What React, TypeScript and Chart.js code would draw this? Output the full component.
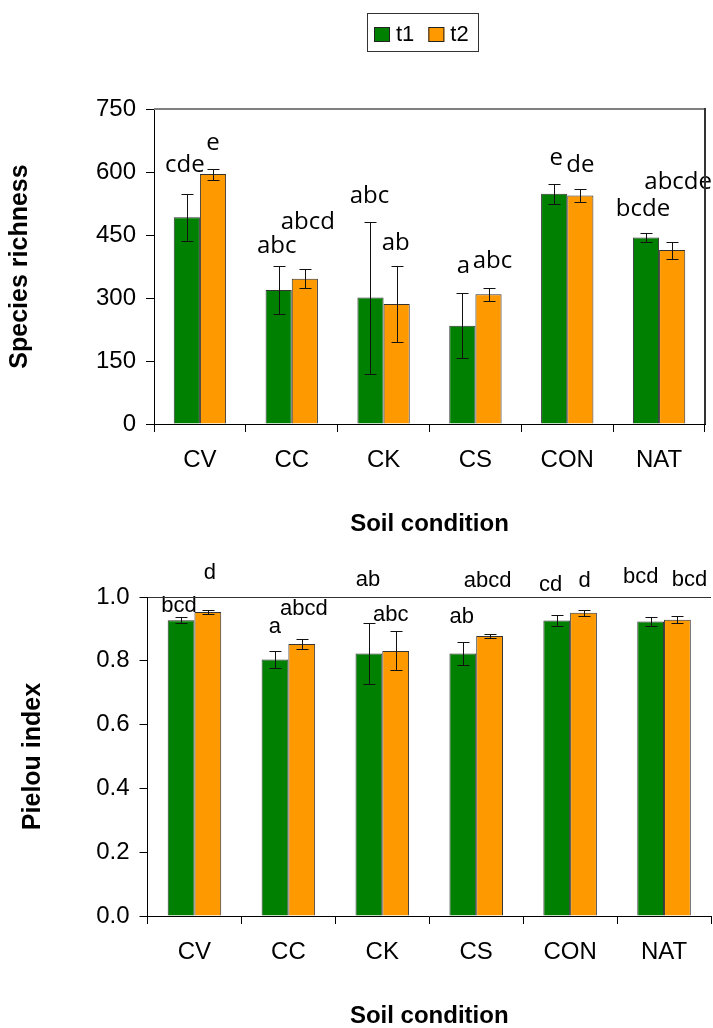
import React, { useEffect, useRef } from "react";
import { Chart, registerables } from "chart.js";

Chart.register(...registerables);

// ---------- data ----------
const categories = ["CV", "CC", "CK", "CS", "CON", "NAT"];
const seriesNames = ["t1", "t2"];

const richnessT1 = [492, 319, 301, 234, 548, 444];
const richnessT1Err = [56, 57, 181, 78, 24, 11];
const richnessT2 = [595, 346, 286, 309, 544, 414];
const richnessT2Err = [13, 23, 90, 16, 15, 20];
const richnessLettersT1 = ["cde", "abc", "abc", "a", "e", "bcde"];
const richnessLettersT2 = ["e", "abcd", "ab", "abc", "de", "abcde"];
const richnessTicks = [0, 150, 300, 450, 600, 750];

const pielouT1 = [0.927, 0.804, 0.823, 0.823, 0.926, 0.923];
const pielouT1Err = [0.009, 0.027, 0.097, 0.035, 0.017, 0.015];
const pielouT2 = [0.953, 0.853, 0.831, 0.878, 0.951, 0.929];
const pielouT2Err = [0.005, 0.015, 0.061, 0.005, 0.009, 0.01];
const pielouLettersT1 = ["bcd", "a", "ab", "ab", "cd", "bcd"];
const pielouLettersT2 = ["d", "abcd", "abc", "abcd", "d", "bcd"];
const pielouTicks = [0, 0.2, 0.4, 0.6, 0.8, 1.0];

// ---------- letter placement (layout, not data): [dx px, y in axis units] ----------
const richnessLetterPos = [
  [[-2, 600], [-2, 407], [-1, 526], [1, 360], [2, 617], [-3, 495]],
  [[0, 652], [3, 464], [-1, 414], [4, 371], [0, 600], [6, 560]],
];
const pielouLetterPos = [
  [[-2, 0.953], [0, 0.887], [-1, 1.033], [-1, 0.918], [-6, 1.019], [-10, 1.044]],
  [[2, 1.055], [2, 0.943], [-5, 0.925], [-2, 1.03], [1, 1.03], [12, 1.033]],
];

// ---------- styles ----------
const GREEN = "#008000";
const ORANGE = "#FF9900";
const ARIAL = "'Liberation Sans', Arial, sans-serif";
const CALIBRI = "'Open Sans', 'Liberation Sans', sans-serif";

const W = 713;
const TOP_H = 545;
const BOT_H = 483;

type Cfg = {
  height: number;
  t1: number[];
  t2: number[];
  e1: number[];
  e2: number[];
  l1: string[];
  l2: string[];
  pos: number[][][];
  ticks: number[];
  yTitle: string;
  decimals: number;
  area: { left: number; right: number; top: number; bottom: number };
  yTitlePad: number;
  letterFont: string;
  boxed: boolean;
  legend: boolean;
};

function makePlugins(c: Cfg, errors: number[][]) {
  const errorBarPlugin = {
    id: "errorBarsLines",
    afterDatasetsDraw(chart: any) {
      const ctx = chart.ctx;
      const y = chart.scales.y;
      ctx.save();
      ctx.strokeStyle = "#111";
      ctx.lineWidth = 1;
      chart.data.datasets.forEach((ds: any, di: number) => {
        const meta = chart.getDatasetMeta(di);
        meta.data.forEach((bar: any, i: number) => {
          const v = ds.data[i];
          const e = errors[di][i];
          const x = Math.round(bar.x) + 0.5;
          const yt = Math.round(y.getPixelForValue(v + e)) + 0.5;
          const yb = Math.round(y.getPixelForValue(v - e)) + 0.5;
          ctx.beginPath();
          ctx.moveTo(x, yt);
          ctx.lineTo(x, yb);
          ctx.moveTo(x - 6, yt);
          ctx.lineTo(x + 6, yt);
          ctx.moveTo(x - 6, yb);
          ctx.lineTo(x + 6, yb);
          ctx.stroke();
        });
      });
      ctx.restore();
    },
  };

  const lettersPlugin = {
    id: "letterLabels",
    afterDraw(chart: any) {
      const ctx = chart.ctx;
      const y = chart.scales.y;
      ctx.save();
      ctx.fillStyle = "#000";
      ctx.font = c.letterFont;
      ctx.textAlign = "center";
      ctx.textBaseline = "alphabetic";
      [c.l1, c.l2].forEach((labels: string[], di: number) => {
        const meta = chart.getDatasetMeta(di);
        labels.forEach((txt, i) => {
          const [dx, yv] = c.pos[di][i];
          ctx.fillText(txt, meta.data[i].x + dx, y.getPixelForValue(yv));
        });
      });
      ctx.restore();
    },
  };

  const framePlugin = {
    id: "plotFrame",
    afterDraw(chart: any) {
      const xs = chart.scales.x;
      const ys = chart.scales.y;
      const ctx = chart.ctx;
      const l = Math.round(xs.left);
      const r = Math.round(xs.right);
      const t = Math.round(ys.top);
      const b = Math.round(ys.bottom);
      ctx.save();
      if (c.boxed) {
        ctx.fillStyle = "#808080";
        ctx.fillRect(l, t - 1, r - l, 2);
        ctx.fillStyle = "#333";
        ctx.fillRect(r - 1, t - 1, 2, b - t + 1);
      } else {
        ctx.fillStyle = "#333";
        ctx.fillRect(l, t, r - l, 1);
      }
      ctx.restore();
    },
  };

  const boxLegendPlugin = {
    id: "boxLegend",
    afterDraw(chart: any) {
      if (!c.legend) return;
      const ctx = chart.ctx;
      ctx.save();
      ctx.font = `22px ${ARIAL}`;
      ctx.textBaseline = "alphabetic";
      ctx.textAlign = "left";
      const left = 367;
      const top = 13;
      const right = 478;
      const bottom = 51;
      ctx.strokeStyle = "#333";
      ctx.lineWidth = 1;
      ctx.strokeRect(left + 0.5, top + 0.5, right - left, bottom - top);
      let x = 374;
      chart.data.datasets.forEach((ds: any) => {
        ctx.fillStyle = ds.backgroundColor;
        ctx.fillRect(x, 27, 16, 15);
        ctx.strokeStyle = "#222";
        ctx.strokeRect(x + 0.5, 27.5, 15, 14);
        ctx.fillStyle = "#000";
        ctx.fillText(ds.label, x + 22, 41);
        x += 22 + ctx.measureText(ds.label).width + 14;
      });
      ctx.restore();
    },
  };

  return [errorBarPlugin, lettersPlugin, framePlugin, boxLegendPlugin];
}

function makeConfig(c: Cfg): any {
  return {
    type: "bar",
    data: {
      labels: categories,
      datasets: [
        {
          label: seriesNames[0],
          data: c.t1,
          backgroundColor: GREEN,
          borderColor: "#333",
          borderWidth: 1,
          barPercentage: 1,
          categoryPercentage: 0.57,
        },
        {
          label: seriesNames[1],
          data: c.t2,
          backgroundColor: ORANGE,
          borderColor: "#333",
          borderWidth: 1,
          barPercentage: 1,
          categoryPercentage: 0.57,
        },
      ],
    },
    options: {
      responsive: false,
      animation: false,
      devicePixelRatio: 1,
      layout: {
        padding: { top: c.area.top, left: 0, right: W - c.area.right, bottom: 0 },
      },
      plugins: {
        legend: { display: false },
        tooltip: { enabled: false },
      },
      scales: {
        x: {
          grid: {
            offset: true,
            drawOnChartArea: false,
            drawTicks: true,
            tickLength: 8,
            color: "#000",
          },
          border: { display: true, color: "#000", width: 1 },
          ticks: {
            color: "#000",
            font: { family: ARIAL, size: 24 },
            padding: 14,
            maxRotation: 0,
          },
          title: {
            display: true,
            text: "Soil condition",
            color: "#000",
            font: { family: ARIAL, size: 24, weight: "bold", lineHeight: 1 },
            padding: { top: 0, bottom: c.height === TOP_H ? 9 : 0 },
          },
          afterFit: (s: any) => {
            s.height = c.height - c.area.bottom;
          },
        },
        y: {
          min: c.ticks[0],
          max: c.ticks[c.ticks.length - 1],
          afterBuildTicks: (s: any) => {
            s.ticks = c.ticks.map((v) => ({ value: v }));
          },
          grid: {
            drawOnChartArea: false,
            drawTicks: true,
            tickLength: 8,
            color: "#000",
          },
          border: { display: true, color: "#000", width: 1 },
          ticks: {
            color: "#000",
            font: { family: ARIAL, size: 24 },
            padding: 10,
            callback: (v: any) => Number(v).toFixed(c.decimals),
          },
          title: {
            display: true,
            text: c.yTitle,
            color: "#000",
            font: { family: ARIAL, size: 25, weight: "bold", lineHeight: 1 },
            padding: { top: c.yTitlePad, bottom: 0 },
          },
          afterFit: (s: any) => {
            s.width = c.area.left;
          },
        },
      },
    },
    plugins: makePlugins(c, [c.e1, c.e2]),
  };
}

function BarChart({ cfg, top }: { cfg: Cfg; top: number }) {
  const ref = useRef<HTMLCanvasElement | null>(null);
  useEffect(() => {
    if (!ref.current) return;
    const chart = new Chart(ref.current, makeConfig(cfg));
    return () => chart.destroy();
  }, []);
  return (
    <canvas
      ref={ref}
      width={W}
      height={cfg.height}
      style={{ position: "absolute", left: 0, top, width: W, height: cfg.height }}
    />
  );
}

const topCfg: Cfg = {
  height: TOP_H,
  t1: richnessT1,
  t2: richnessT2,
  e1: richnessT1Err,
  e2: richnessT2Err,
  l1: richnessLettersT1,
  l2: richnessLettersT2,
  pos: richnessLetterPos,
  ticks: richnessTicks,
  yTitle: "Species richness",
  decimals: 0,
  area: { left: 154, right: 705, top: 109, bottom: 424 },
  yTitlePad: 8,
  letterFont: `24px ${CALIBRI}`,
  boxed: true,
  legend: true,
};

const botCfg: Cfg = {
  height: BOT_H,
  t1: pielouT1,
  t2: pielouT2,
  e1: pielouT1Err,
  e2: pielouT2Err,
  l1: pielouLettersT1,
  l2: pielouLettersT2,
  pos: pielouLetterPos,
  ticks: pielouTicks,
  yTitle: "Pielou index",
  decimals: 1,
  area: { left: 147.5, right: 711, top: 52, bottom: 371 },
  yTitlePad: 21,
  letterFont: `22px ${ARIAL}`,
  boxed: false,
  legend: false,
};

export default function App() {
  return (
    <div
      style={{
        position: "absolute",
        left: 0,
        top: 0,
        width: W,
        height: 1028,
        background: "#fff",
        overflow: "hidden",
      }}
    >
      <BarChart cfg={topCfg} top={0} />
      <BarChart cfg={botCfg} top={TOP_H} />
    </div>
  );
}
